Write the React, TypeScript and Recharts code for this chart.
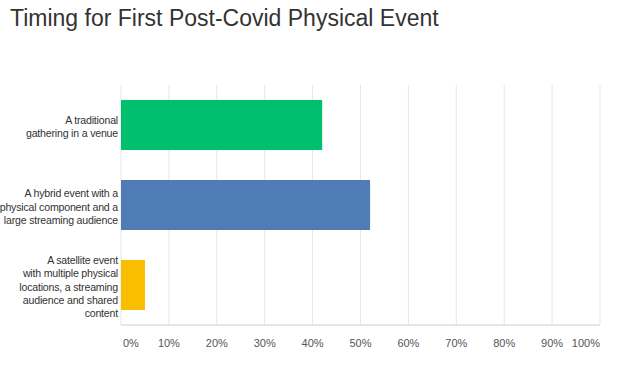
import React from 'react';
import { BarChart, Bar, XAxis, YAxis, CartesianGrid, Cell } from 'recharts';

const categories = [
  'A traditional\ngathering in a venue',
  'A hybrid event with a\nphysical component and a\nlarge streaming audience',
  'A satellite event\nwith multiple physical\nlocations, a streaming\naudience and shared\ncontent',
];
const values = [42, 52, 5];
const barColors = ['#00bf6f', '#507cb6', '#f9be00'];
const xTicks = [0, 10, 20, 30, 40, 50, 60, 70, 80, 90, 100];
const title = 'Timing for First Post-Covid Physical Event';

const data = categories.map((c, i) => ({ name: c, value: values[i] }));

const FONT = '"Liberation Sans", Arial, Helvetica, sans-serif';

const YTick = (props: any) => {
  const { x, y, payload } = props;
  const lines = String(payload.value).split('\n');
  const lh = 13.2;
  const startY = y + 1.5 - ((lines.length - 1) * lh) / 2;
  return (
    <text x={x} y={startY} textAnchor="end" fontFamily={FONT} fontSize={10.6} letterSpacing={-0.2} fill="#333" dominantBaseline="central">
      {lines.map((l, i) => (
        <tspan key={i} x={x} dy={i === 0 ? 0 : lh}>{l}</tspan>
      ))}
    </text>
  );
};

const XTick = (props: any) => {
  const { x, y, payload } = props;
  const v = payload.value;
  const anchor = v === xTicks[0] ? 'start' : v === xTicks[xTicks.length - 1] ? 'end' : 'middle';
  const dx = v === xTicks[0] ? 2 : 0;
  return (
    <text x={x + dx} y={y} dy={14} textAnchor={anchor} fontFamily={FONT} fontSize={11} fill="#555">
      {v + '%'}
    </text>
  );
};

export default function App() {
  return (
    <div style={{ position: 'absolute', left: 0, top: 0, width: 642, height: 374, background: '#fff' }}>
      <div style={{ position: 'absolute', left: 10, top: 5, fontFamily: FONT, fontSize: 23, color: '#333', whiteSpace: 'nowrap' }}>
        {title}
      </div>
      <BarChart
        width={642}
        height={374}
        data={data}
        layout="vertical"
        margin={{ top: 85, right: 42, bottom: 19, left: 0 }}
      >
        <CartesianGrid horizontal={false} stroke="#e6e6e6" />
        <XAxis
          type="number"
          domain={[0, 100]}
          ticks={xTicks}
          interval={0}
          height={30}
          axisLine={{ stroke: '#cccccc' }}
          tickLine={false}
          tick={<XTick />}
        />
        <YAxis
          type="category"
          dataKey="name"
          width={121}
          axisLine={false}
          tickLine={false}
          tickSize={0}
          tickMargin={3}
          interval={0}
          tick={<YTick />}
        />
        <Bar dataKey="value" barSize={50} isAnimationActive={false}>
          {data.map((d, i) => (
            <Cell key={i} fill={barColors[i]} />
          ))}
        </Bar>
      </BarChart>
    </div>
  );
}
